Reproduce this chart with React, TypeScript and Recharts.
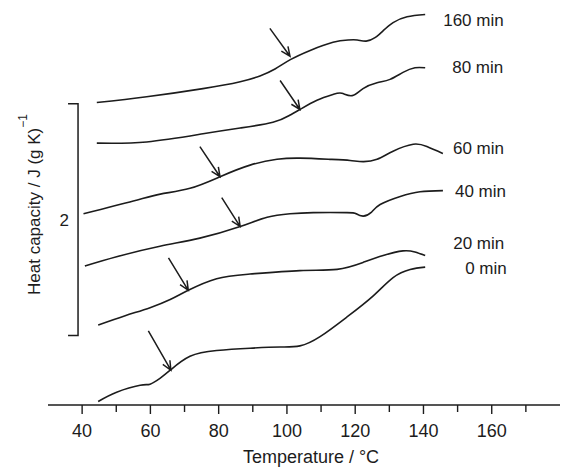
import { LineChart, Line, XAxis, YAxis, ReferenceLine } from 'recharts';

// temperature (°C) and heat capacity, J (g K)^-1, curves offset vertically
const t0 = [44.7, 50.1, 57, 59.9, 62.8, 65.8, 71.6, 79.4, 89.2, 98, 103.8, 109.7, 117.6, 125.2, 131.1, 136.1, 140.5];
const cp0 = [0.03, 0.11, 0.17, 0.18, 0.23, 0.3, 0.42, 0.47, 0.49, 0.5, 0.51, 0.59, 0.76, 0.94, 1.1, 1.17, 1.19];

const t20 = [44.7, 52.6, 59.9, 65.8, 71.1, 79.4, 89.2, 103.8, 114.7, 122.3, 128.2, 134, 137.5, 140.5];
const cp20 = [0.69, 0.77, 0.84, 0.91, 0.99, 1.09, 1.13, 1.16, 1.17, 1.23, 1.29, 1.33, 1.32, 1.29];

const t40 = [40.8, 50.1, 62.8, 74.5, 86.3, 94.2, 100.9, 107.7, 117.6, 120.3, 122.3, 124.6, 127.3, 133.2, 139, 145.7];
const cp40 = [1.2, 1.28, 1.37, 1.44, 1.54, 1.62, 1.65, 1.66, 1.66, 1.65, 1.63, 1.66, 1.73, 1.8, 1.84, 1.85];

const t60 = [40.4, 55, 62.9, 71.6, 80.4, 89.2, 97.1, 103.8, 112.6, 118.5, 122.3, 126.4, 131.1, 137, 141, 145.7];
const cp60 = [1.65, 1.76, 1.82, 1.87, 1.97, 2.07, 2.12, 2.13, 2.12, 2.11, 2.1, 2.12, 2.19, 2.25, 2.23, 2.17];

const t80 = [44.3, 58.9, 75.4, 86.3, 95.9, 100.8, 103.8, 108.8, 113.5, 116.1, 119.1, 122.3, 126.4, 130.2, 134, 137.5, 140.5];
const cp80 = [2.26, 2.27, 2.34, 2.39, 2.44, 2.5, 2.55, 2.63, 2.68, 2.69, 2.67, 2.73, 2.78, 2.81, 2.87, 2.91, 2.91];

const t160 = [44.3, 58.9, 75.4, 86.3, 92.1, 96.5, 101, 106.8, 113.5, 117.9, 120.6, 123.2, 125.8, 128.2, 131.1, 135.2, 140.5];
const cp160 = [2.61, 2.66, 2.73, 2.79, 2.84, 2.9, 2.98, 3.06, 3.13, 3.15, 3.15, 3.14, 3.17, 3.23, 3.3, 3.35, 3.37];

const curveNames = ['0 min', '20 min', '40 min', '60 min', '80 min', '160 min'];

// Tg arrows: tail and head, same order as curveNames
const arrowTailT = [59.4, 65.3, 80.9, 74.5, 98, 95];
const arrowTailCp = [0.64, 1.27, 1.79, 2.23, 2.8, 3.25];
const arrowHeadT = [66, 71.1, 86.3, 80.4, 103.8, 100.9];
const arrowHeadCp = [0.3, 0.99, 1.54, 1.97, 2.55, 3.01];

const xTicks = [40, 50, 60, 70, 80, 90, 100, 110, 120, 130, 140, 150, 160, 170];
const scaleBar = { t: 38.8, from: 0.6, to: 2.6, label: '2' };

const INK = '#1c1c1c';
const FONT = '"Liberation Sans", Arial, Helvetica, sans-serif';

// label offsets in px from each curve's last point
const labelOffsets = [
  [40, 0.6],
  [28, -12.7],
  [12, 0],
  [10, -5.7],
  [27, -1],
  [18, 5.7],
];

const series = [
  [t0, cp0],
  [t20, cp20],
  [t40, cp40],
  [t60, cp60],
  [t80, cp80],
  [t160, cp160],
].map(([t, cp], i) => ({
  name: curveNames[i],
  data: t.map((T, j) => ({ T, cp: cp[j] })),
  dx: labelOffsets[i][0],
  dy: labelOffsets[i][1],
}));

const TempTick = ({ x, y, payload }: any) => {
  const major = payload.value % 20 === 0;
  return (
    <g>
      <line x1={x} x2={x} y1={y} y2={y + (major ? 9 : 7)} stroke={INK} strokeWidth={1.4} />
      {major && (
        <text x={x} y={y + 31.5} textAnchor="middle" fontSize={18} fill={INK} fontFamily={FONT}>
          {payload.value}
        </text>
      )}
    </g>
  );
};

const XTitle = ({ viewBox }: any) => {
  const vb = viewBox || { x: 48, y: 405, width: 512 };
  return (
    <text x={vb.x + vb.width / 2 + 7} y={vb.y + 58} textAnchor="middle" fontSize={18} fill={INK} fontFamily={FONT}>
      Temperature / °C
    </text>
  );
};

const YTitle = () => (
  <text transform="translate(40,295) rotate(-90)" fontSize={17} fill={INK} fontFamily={FONT}>
    Heat capacity / J (g K)
    <tspan dy={-13} fontSize={12}>−1</tspan>
  </text>
);

const Arrow = (p: any) => {
  const { x1, y1, x2, y2 } = p;
  const a = Math.atan2(y2 - y1, x2 - x1);
  const h = 10;
  const w = 0.42;
  const lx = x2 - h * Math.cos(a - w);
  const ly = y2 - h * Math.sin(a - w);
  const rx = x2 - h * Math.cos(a + w);
  const ry = y2 - h * Math.sin(a + w);
  return (
    <path
      d={`M${x1},${y1}L${x2},${y2}M${lx},${ly}L${x2},${y2}L${rx},${ry}`}
      stroke={INK}
      strokeWidth={1.5}
      fill="none"
    />
  );
};

const Bracket = (p: any) => {
  const { x1, y1, y2 } = p;
  const top = Math.min(y1, y2);
  const bottom = Math.max(y1, y2);
  return (
    <path
      d={`M${x1 - 10},${top}H${x1}V${bottom}H${x1 - 10}`}
      stroke={INK}
      strokeWidth={1.5}
      fill="none"
    />
  );
};

const endLabel = (name: string, last: number, dx: number, dy: number) => (p: any) => {
  if (p.index !== last) return <g key={`d-${p.index}`} />;
  return (
    <text key={`d-${p.index}`} x={p.cx + dx} y={p.cy + dy + 6} fontSize={17} fill={INK} fontFamily={FONT}>
      {name}
    </text>
  );
};

export default function App() {
  return (
    <div style={{ position: 'absolute', left: 0, top: 0, width: 561, height: 469, background: '#fff' }}>
      <LineChart width={561} height={469} margin={{ top: 11, right: 1, bottom: 0, left: 0 }}>
        <XAxis
          dataKey="T"
          type="number"
          domain={[30, 180]}
          ticks={xTicks}
          interval={0}
          allowDataOverflow
          height={64}
          tickSize={0}
          tickMargin={0}
          tickLine={false}
          tick={<TempTick />}
          axisLine={{ stroke: INK, strokeWidth: 1.5 }}
          label={<XTitle />}
        />
        <YAxis
          type="number"
          domain={[0, 3.4]}
          width={48}
          tick={false}
          tickLine={false}
          axisLine={false}
          label={<YTitle />}
        />
        <ReferenceLine
          segment={[
            { x: scaleBar.t, y: scaleBar.from },
            { x: scaleBar.t, y: scaleBar.to },
          ]}
          shape={Bracket}
          label={{ value: scaleBar.label, position: 'left', offset: 9, fontSize: 17, fill: INK, fontFamily: FONT }}
        />
        {arrowTailT.map((t, i) => (
          <ReferenceLine
            key={`arrow-${i}`}
            segment={[
              { x: t, y: arrowTailCp[i] },
              { x: arrowHeadT[i], y: arrowHeadCp[i] },
            ]}
            shape={Arrow}
          />
        ))}
        {series.map((s) => (
          <Line
            key={s.name}
            data={s.data}
            dataKey="cp"
            type="natural"
            stroke={INK}
            strokeWidth={1.6}
            dot={endLabel(s.name, s.data.length - 1, s.dx, s.dy)}
            activeDot={false}
            isAnimationActive={false}
          />
        ))}
      </LineChart>
    </div>
  );
}
